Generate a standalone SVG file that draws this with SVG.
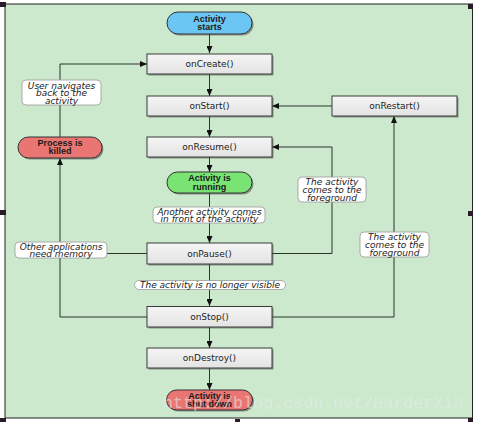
<svg xmlns="http://www.w3.org/2000/svg" width="477" height="422" viewBox="0 0 477 422">
<style>
.box{fill:url(#gbox);stroke:#3a3a3a;stroke-width:1}
.shadow{fill:#4a4a4a;opacity:0.55}
.pill{stroke:#333;stroke-width:1}
.blue{fill:#6cc6f3}
.green{fill:#79e473}
.red{fill:#e97672}
.ntext{font-family:"DejaVu Sans",sans-serif;font-size:9px;fill:#222;text-anchor:middle}
.ptext{font-family:"Liberation Sans",Arial,sans-serif;font-size:9px;font-weight:bold;fill:#1a1a1a;text-anchor:middle}
.lbl{fill:#fff;stroke:#999;stroke-width:0.8}
.ltext{font-family:"DejaVu Sans",sans-serif;font-style:oblique;font-size:9px;fill:#222;text-anchor:middle}
.conn{fill:none;stroke:#2b332b;stroke-width:1}
.handle{fill:#2a1a2a}
</style>
<defs>
<linearGradient id="gbox" x1="0" y1="0" x2="0" y2="1">
<stop offset="0" stop-color="#f5f5f5"/>
<stop offset="1" stop-color="#e3e3e3"/>
</linearGradient>
<marker id="arr" markerUnits="userSpaceOnUse" markerWidth="7" markerHeight="6" refX="7" refY="3" orient="auto">
<path d="M0,0 L7,3 L0,6 z" fill="#111"/>
</marker>
</defs>
<rect x="0" y="0" width="477" height="422" fill="#fff"/>
<rect x="5" y="4" width="467.5" height="414" fill="#cce8cd" stroke="#222" stroke-width="1"/>
<g id="handles">
<rect class="handle" x="0" y="2" width="6" height="5"/>
<rect class="handle" x="468" y="4" width="5" height="5"/>
<rect class="handle" x="0" y="210" width="6" height="5"/>
<rect class="handle" x="468" y="211" width="5" height="5"/>
<rect class="handle" x="0" y="418" width="6" height="4"/>
<rect class="handle" x="235" y="419" width="5" height="3"/>
<rect class="handle" x="468" y="418" width="5" height="4"/>
</g>
<g id="connectors">
<path class="conn" d="M209.5 34 V53" marker-end="url(#arr)"/>
<path class="conn" d="M209.5 74 V96" marker-end="url(#arr)"/>
<path class="conn" d="M209.5 116 V137" marker-end="url(#arr)"/>
<path class="conn" d="M209.5 157 V172" marker-end="url(#arr)"/>
<path class="conn" d="M209.5 193 V243" marker-end="url(#arr)"/>
<path class="conn" d="M209.5 264 V306" marker-end="url(#arr)"/>
<path class="conn" d="M209.5 327 V348" marker-end="url(#arr)"/>
<path class="conn" d="M209.5 368 V390" marker-end="url(#arr)"/>
<path class="conn" d="M332 106 H272" marker-end="url(#arr)"/>
<path class="conn" d="M272 317 H394 V116" marker-end="url(#arr)"/>
<path class="conn" d="M272 253.5 H332 V147 H272" marker-end="url(#arr)"/>
<path class="conn" d="M147 253.5 H60"/>
<path class="conn" d="M147 317 H60 V158" marker-end="url(#arr)"/>
<path class="conn" d="M60 137 V64 H147" marker-end="url(#arr)"/>
</g>
<g id="label-user-navigates">
<rect class="lbl" x="22" y="80" width="79" height="25" rx="4"/>
<text class="ltext" x="61.5" y="88.5">User navigates</text>
<text class="ltext" x="61.5" y="96">back to the</text>
<text class="ltext" x="61.5" y="103.5">activity</text>
</g>
<g id="label-another-activity">
<rect class="lbl" x="153" y="207" width="112" height="16" rx="4"/>
<text class="ltext" x="209.5" y="214.5">Another activity comes</text>
<text class="ltext" x="209.5" y="222">in front of the activity</text>
</g>
<g id="label-other-apps">
<rect class="lbl" x="15" y="242" width="92" height="16" rx="4"/>
<text class="ltext" x="61" y="249.5">Other applications</text>
<text class="ltext" x="61" y="257">need memory</text>
</g>
<g id="label-no-longer-visible">
<rect class="lbl" x="134.5" y="280.5" width="151" height="9" rx="4.5"/>
<text class="ltext" x="210" y="288.3">The activity is no longer visible</text>
</g>
<g id="label-foreground-1">
<rect class="lbl" x="298" y="177" width="68" height="25" rx="4"/>
<text class="ltext" x="332" y="185">The activity</text>
<text class="ltext" x="332" y="193">comes to the</text>
<text class="ltext" x="332" y="201">foreground</text>
</g>
<g id="label-foreground-2">
<rect class="lbl" x="360" y="232" width="69" height="25" rx="4"/>
<text class="ltext" x="394.5" y="240">The activity</text>
<text class="ltext" x="394.5" y="248">comes to the</text>
<text class="ltext" x="394.5" y="256">foreground</text>
</g>
<g id="node-activity-starts">
<rect class="shadow" x="168.5" y="13.5" width="85" height="22" rx="11"/>
<rect class="pill blue" x="167" y="12" width="85" height="22" rx="11"/>
<text class="ptext" x="209.5" y="21.5">Activity</text>
<text class="ptext" x="209.5" y="30">starts</text>
</g>
<g id="node-oncreate">
<rect class="shadow" x="148.5" y="55.5" width="125" height="20"/>
<rect class="box" x="147" y="54" width="125" height="20"/>
<text class="ntext" x="209.5" y="67">onCreate()</text>
</g>
<g id="node-onstart">
<rect class="shadow" x="148.5" y="97.5" width="125" height="20"/>
<rect class="box" x="147" y="96" width="125" height="20"/>
<text class="ntext" x="209.5" y="109">onStart()</text>
</g>
<g id="node-onrestart">
<rect class="shadow" x="333.5" y="97.5" width="125" height="20"/>
<rect class="box" x="332" y="96" width="125" height="20"/>
<text class="ntext" x="394.5" y="109">onRestart()</text>
</g>
<g id="node-onresume">
<rect class="shadow" x="148.5" y="138.5" width="125" height="20"/>
<rect class="box" x="147" y="137" width="125" height="20"/>
<text class="ntext" x="209.5" y="150">onResume()</text>
</g>
<g id="node-process-killed">
<rect class="shadow" x="19.5" y="138.5" width="84" height="21" rx="10.5"/>
<rect class="pill red" x="18" y="137" width="84" height="21" rx="10.5"/>
<text class="ptext" x="60" y="146">Process is</text>
<text class="ptext" x="60" y="154">killed</text>
</g>
<g id="node-activity-running">
<rect class="shadow" x="168.5" y="173.5" width="85" height="21" rx="10.5"/>
<rect class="pill green" x="167" y="172" width="85" height="21" rx="10.5"/>
<text class="ptext" x="209.5" y="181">Activity is</text>
<text class="ptext" x="209.5" y="189.5">running</text>
</g>
<g id="node-onpause">
<rect class="shadow" x="148.5" y="244.5" width="125" height="21"/>
<rect class="box" x="147" y="243" width="125" height="21"/>
<text class="ntext" x="209.5" y="256.5">onPause()</text>
</g>
<g id="node-onstop">
<rect class="shadow" x="148.5" y="308" width="125" height="20.5"/>
<rect class="box" x="147" y="306.5" width="125" height="20.5"/>
<text class="ntext" x="209.5" y="320">onStop()</text>
</g>
<g id="node-ondestroy">
<rect class="shadow" x="148.5" y="349.5" width="125" height="20"/>
<rect class="box" x="147" y="348" width="125" height="20"/>
<text class="ntext" x="209.5" y="361">onDestroy()</text>
</g>
<g id="node-activity-shut-down">
<rect class="shadow" x="168" y="391.5" width="86" height="20" rx="10"/>
<rect class="pill red" x="166.5" y="390" width="86" height="20" rx="10"/>
<text class="ptext" x="209.5" y="398.5">Activity is</text>
<text class="ptext" x="209.5" y="407">shut down</text>
</g>
<text x="163" y="408" font-family="Liberation Mono, monospace" font-size="16.7" fill="#e8eee8" opacity="0.55">http://blog.csdn.net/HarderXin</text>
</svg>
